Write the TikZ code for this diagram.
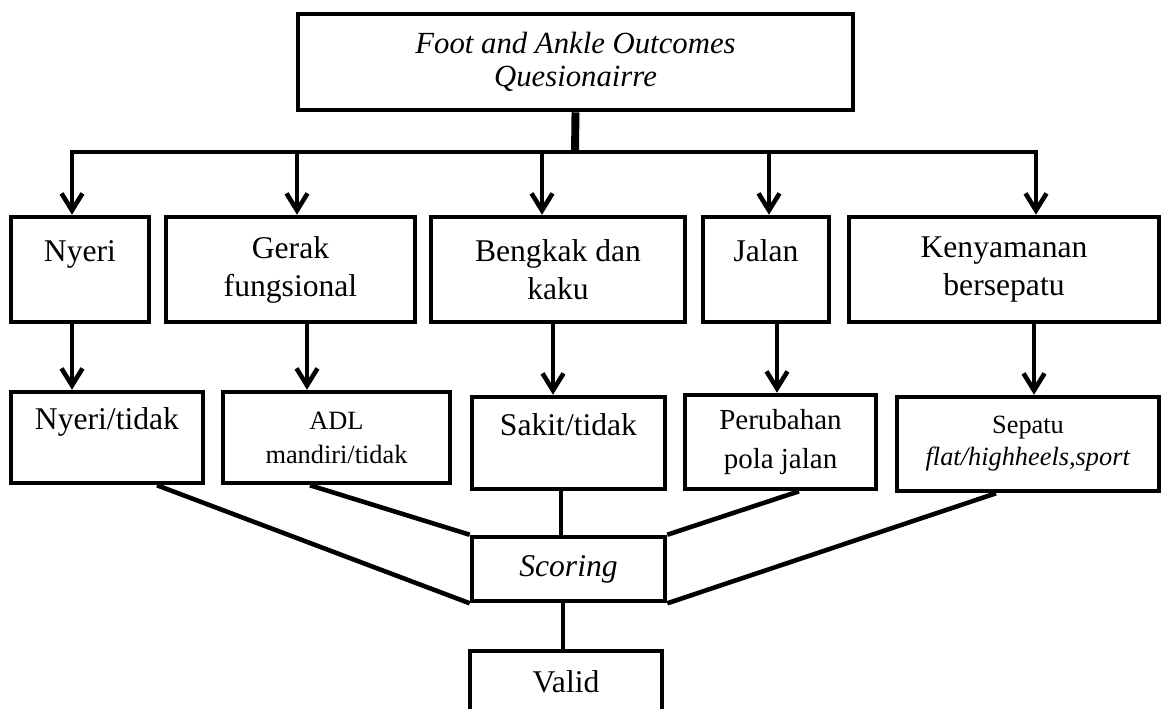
\documentclass[tikz,border=0pt]{standalone}
\usepackage{fontspec}
\setmainfont{Liberation Serif}
\usetikzlibrary{shapes,arrows.meta,positioning}

\tikzset{
  box/.style={draw, line width=2.6pt, inner sep=0pt, align=center, font=\fontsize{18}{21.6}\selectfont},
  arr/.style={line width=2.6pt, -{Straight Barb[length=0.34cm, width=0.42cm]}},
  link/.style={line width=2.6pt},
}

\begin{document}
\begin{tikzpicture}[x=0.02cm, y=-0.02cm]
\useasboundingbox (0,0) rectangle (1166,708);

\node[box, minimum width=11.1cm, minimum height=1.92cm, font=\itshape\fontsize{17.5}{18.7}\selectfont] (faoq) at (575.5,62) {Foot and Ankle Outcomes\\Quesionairre};
%============
\node[box, minimum width=2.76cm, minimum height=2.1cm] (nyeri) at (80,269.5) {Nyeri\\~};
\node[box, minimum width=4.98cm, minimum height=2.1cm] (gerak) at (290.5,269.5) {Gerak\\fungsional};
\node[box, minimum width=5.08cm, minimum height=2.1cm] (bengkak) at (558,269.5) {Bengkak dan\\kaku};
\node[box, minimum width=2.52cm, minimum height=2.1cm] (jalan) at (766,269.5) {Jalan\\~};
\node[box, minimum width=6.2cm, minimum height=2.1cm] (nyaman) at (1004,269.5) {Kenyamanan\\bersepatu};
%============
\node[box, minimum width=3.84cm, minimum height=1.82cm] (nyeritidak) at (107,437.5) {Nyeri/tidak\\~};
\node[box, minimum width=4.54cm, minimum height=1.82cm, font=\fontsize{15}{19.4}\selectfont] (adl) at (336.5,437.5) {ADL\\mandiri/tidak};
\node[box, minimum width=3.86cm, minimum height=1.84cm] (sakit) at (568.5,443) {Sakit/tidak\\~};
\node[box, minimum width=3.82cm, minimum height=1.88cm, font=\fontsize{16.5}{22}\selectfont] (perubahan) at (780.5,442) {Perubahan\\pola jalan};
\node[box, minimum width=5.24cm, minimum height=1.88cm, font=\fontsize{15}{18.2}\selectfont] (sepatu) at (1028,444) {Sepatu\\\textit{flat/highheels,sport}};
%============
\node[box, minimum width=3.86cm, minimum height=1.28cm, font=\itshape\fontsize{18}{21.6}\selectfont] (scoring) at (568.5,569) {Scoring};
\node[box, minimum width=3.84cm, minimum height=1.22cm] (valid) at (566,681.5) {Valid};
%==========

\coordinate (fork) at (575,152);
\coordinate (d1) at (72,152);
\coordinate (d2) at (297,152);
\coordinate (d3) at (542,152);
\coordinate (d4) at (769,152);
\coordinate (d5) at (1036,152);

            \draw[line width=4.5pt] (faoq.south) -- (fork);
            \draw[arr] (fork) -- (d1) -- (d1 |- nyeri.north);
            \draw[arr] (fork) -- (d5) -- (d5 |- nyaman.north);
            \draw[arr] (d2) -- (d2 |- gerak.north);
            \draw[arr] (d3) -- (d3 |- bengkak.north);
            \draw[arr] (d4) -- (d4 |- jalan.north);

\coordinate (e1) at (72,0);
\coordinate (e2) at (307,0);
\coordinate (e3) at (553,0);
\coordinate (e4) at (777,0);
\coordinate (e5) at (1034,0);

            \draw[arr] (e1 |- nyeri.south) -- (e1 |- nyeritidak.north);
            \draw[arr] (e2 |- gerak.south) -- (e2 |- adl.north);
            \draw[arr] (e3 |- bengkak.south) -- (e3 |- sakit.north);
            \draw[arr] (e4 |- jalan.south) -- (e4 |- perubahan.north);
            \draw[arr] (e5 |- nyaman.south) -- (e5 |- sepatu.north);

            % into scoring
            \draw[link] ([xshift=1cm]nyeritidak.south) -- (scoring.south west);
            \draw[link] ([xshift=-0.53cm]adl.south) -- (scoring.north west);
            \draw[link] ([xshift=-0.15cm]sakit.south) -- ([xshift=-0.15cm]scoring.north);
            \draw[link] ([xshift=0.37cm]perubahan.south) -- (scoring.north east);
            \draw[link] ([xshift=-0.64cm]sepatu.south) -- (scoring.south east);
            \draw[link] ([xshift=-0.11cm]scoring.south) -- ([xshift=-0.11cm]scoring.south |- valid.north);

\end{tikzpicture}
\end{document}
